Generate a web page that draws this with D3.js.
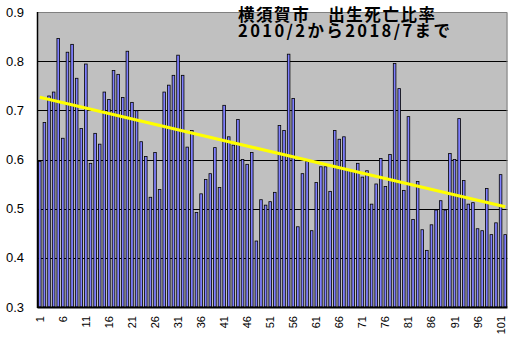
<!DOCTYPE html>
<html>
<head>
<meta charset="utf-8">
<script src="https://cdn.jsdelivr.net/npm/d3@7/dist/d3.min.js"></script>
<style>
  html, body { margin: 0; padding: 0; background: #fff; }
  svg { display: block; }
</style>
</head>
<body>
<svg id="chart" width="514" height="341"></svg>
<script>
// Monthly birth/death ratio, Yokosuka, Feb 2010 – Jul 2018 (months numbered 1..102)
const months = d3.range(1, 103);
const ratios = [
  0.597, 0.676, 0.730, 0.738, 0.847, 0.644, 0.819, 0.835, 0.766, 0.664,
  0.795, 0.593, 0.654, 0.632, 0.738, 0.723, 0.782, 0.774, 0.727, 0.821,
  0.717, 0.700, 0.637, 0.607, 0.524, 0.615, 0.540, 0.738, 0.752, 0.772,
  0.813, 0.772, 0.626, 0.660, 0.493, 0.531, 0.560, 0.572, 0.625, 0.544,
  0.711, 0.647, 0.630, 0.682, 0.601, 0.591, 0.615, 0.435, 0.519, 0.508,
  0.515, 0.534, 0.670, 0.660, 0.815, 0.725, 0.464, 0.572, 0.597, 0.456,
  0.554, 0.586, 0.586, 0.536, 0.660, 0.642, 0.647, 0.580, 0.576, 0.593,
  0.565, 0.578, 0.510, 0.551, 0.603, 0.546, 0.611, 0.796, 0.745, 0.538,
  0.688, 0.479, 0.556, 0.458, 0.416, 0.468, 0.498, 0.517, 0.498, 0.613,
  0.601, 0.684, 0.558, 0.510, 0.513, 0.460, 0.456, 0.542, 0.448, 0.472,
  0.570, 0.448
];
const yTicks = [0.3, 0.4, 0.5, 0.6, 0.7, 0.8, 0.9];
const xTickLabels = months.filter(m => (m - 1) % 5 === 0);
const titleLines = ["横須賀市　出生死亡比率", "2010/2から2018/7まで"];

const svg = d3.select("#chart");
const plot = { left: 37.5, right: 507.5, top: 12, bottom: 307 };

const x = d3.scaleBand()
  .domain(months)
  .range([plot.left, plot.right])
  .paddingInner(0.3)
  .paddingOuter(0.15);

const y = d3.scaleLinear()
  .domain([0.3, 0.9])
  .range([plot.bottom, plot.top]);

// plot background
svg.append("rect")
  .attr("x", plot.left).attr("y", plot.top)
  .attr("width", plot.right - plot.left)
  .attr("height", plot.bottom - plot.top)
  .attr("fill", "#c0c0c0");

// horizontal gridlines (behind bars)
svg.append("g")
  .selectAll("line")
  .data(yTicks.slice(1, -1))
  .join("line")
  .attr("x1", plot.left).attr("x2", plot.right)
  .attr("y1", d => Math.round(y(d)) + 0.5)
  .attr("y2", d => Math.round(y(d)) + 0.5)
  .attr("stroke", "#000")
  .attr("stroke-width", 1);

// frame: grey top/right edges
svg.append("path")
  .attr("d", `M${plot.left},${plot.top + 0.5}H${plot.right - 0.5}V${plot.bottom}`)
  .attr("fill", "none")
  .attr("stroke", "#808080")
  .attr("stroke-width", 1);

// bars: thin black outline, light blue fill
const barW = 3.4;
svg.append("g")
  .selectAll("rect")
  .data(ratios)
  .join("rect")
  .attr("x", (d, i) => x(months[i]) + x.bandwidth() / 2 - barW / 2 + 0.4)
  .attr("y", d => y(d) + 0.4)
  .attr("width", barW - 0.8)
  .attr("height", d => y(0.3) - y(d) - 0.4)
  .attr("fill", "#8080ff")
  .attr("stroke", "#000")
  .attr("stroke-width", 0.8);

// linear trendline (least squares over the months)
const n = ratios.length;
const mx = d3.mean(months), my = d3.mean(ratios);
const slope = d3.sum(months, (m, i) => (m - mx) * (ratios[i] - my)) /
              d3.sum(months, m => (m - mx) * (m - mx));
const icpt = my - slope * mx;
const trendEnds = [months[0], months[n - 1]];
svg.append("line")
  .attr("x1", x(trendEnds[0]) + x.bandwidth() / 2)
  .attr("x2", x(trendEnds[1]) + x.bandwidth() / 2)
  .attr("y1", y(icpt + slope * trendEnds[0]))
  .attr("y2", y(icpt + slope * trendEnds[1]))
  .attr("stroke", "#ffff00")
  .attr("stroke-width", 3);

// axes lines (left and bottom, black)
svg.append("line")
  .attr("x1", plot.left).attr("x2", plot.left)
  .attr("y1", plot.top).attr("y2", plot.bottom + 1)
  .attr("stroke", "#000").attr("stroke-width", 1.5);
svg.append("line")
  .attr("x1", plot.left).attr("x2", plot.right)
  .attr("y1", plot.bottom + 0.5).attr("y2", plot.bottom + 0.5)
  .attr("stroke", "#000").attr("stroke-width", 2);

// y tick labels
svg.append("g")
  .selectAll("text")
  .data(yTicks)
  .join("text")
  .attr("x", 24)
  .attr("y", d => y(d))
  .attr("text-anchor", "end")
  .attr("dominant-baseline", "central")
  .attr("font-family", "Liberation Sans, Arial, sans-serif")
  .attr("font-size", 13)
  .attr("fill", "#000")
  .text(d => d.toFixed(1));

// x tick labels, rotated
svg.append("g")
  .selectAll("text")
  .data(xTickLabels)
  .join("text")
  .attr("transform", d => `translate(${x(d) + x.bandwidth() / 2},316) rotate(-90)`)
  .attr("text-anchor", "end")
  .attr("dominant-baseline", "central")
  .attr("font-family", "Liberation Sans, Arial, sans-serif")
  .attr("font-size", 11)
  .attr("fill", "#000")
  .text(d => d);

// two-line title
const titleWidths = [197, 212];
svg.append("text")
  .attr("x", 238)
  .attr("y", 21)
  .attr("font-family", "Noto Sans CJK JP, sans-serif")
  .attr("font-weight", "bold")
  .attr("font-size", 16.5)
  .attr("fill", "#000")
  .selectAll("tspan")
  .data(titleLines)
  .join("tspan")
  .attr("x", 238)
  .attr("dy", (d, i) => i === 0 ? 0 : 16)
  .attr("textLength", (d, i) => titleWidths[i])
  .attr("lengthAdjust", "spacing")
  .text(d => d);
</script>
</body>
</html>
